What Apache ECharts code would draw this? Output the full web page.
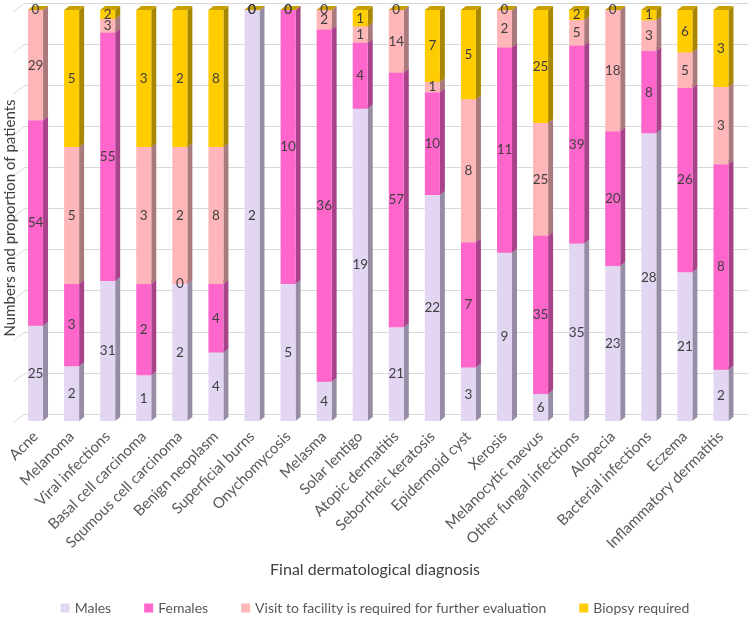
<!DOCTYPE html>
<html>
<head>
<meta charset="utf-8">
<script src="https://cdn.jsdelivr.net/npm/echarts@6/dist/echarts.min.js"></script>
<style>html,body{margin:0;padding:0;background:#fff;}#c{width:750px;height:624px;}</style>
</head>
<body>
<div id="c"></div>
<script>
const categories = ["Acne","Melanoma","Viral infections","Basal cell carcinoma","Squmous cell carcinoma","Benign neoplasm","Superficial burns","Onychomycosis","Melasma","Solar lentigo","Atopic dermatitis","Seborrheic keratosis","Epidermoid cyst","Xerosis","Melanocytic naevus","Other fungal infections","Alopecia","Bacterial infections","Eczema","Inflammatory dermatitis"];
const males   = [25, 2, 31, 1, 2, 4, 2, 5, 4, 19, 21, 22, 3, 9, 6, 35, 23, 28, 21, 2];
const females = [54, 3, 55, 2, 0, 4, 0, 10, 36, 4, 57, 10, 7, 11, 35, 39, 20, 8, 26, 8];
const visit   = [29, 5, 3, 3, 2, 8, 0, 0, 2, 1, 14, 1, 8, 2, 25, 5, 18, 3, 5, 3];
const biopsy  = [0, 5, 2, 3, 2, 8, 0, 0, 0, 1, 0, 7, 5, 0, 25, 2, 0, 1, 6, 3];
const seriesNames = ["Males","Females","Visit to facility is required for further evaluation","Biopsy required"];
const gridTicks = [0,10,20,30,40,50,60,70,80,90,100];

const seriesValues = [males, females, visit, biopsy];
const colors = {
  front: ['#E2D6F2','#FF66CC','#FFB6B9','#FFCC00'],
  side:  ['#968CA3','#A8428A','#A87A7C','#A88700'],
  top:   ['#BDB2CB','#D655AB','#D89A9D','#C9A000']
};

const totals = categories.map((c,i)=>seriesValues.reduce((s,a)=>s+a[i],0));
function buildData(s){
  return categories.map((c,i)=>{
    let start = 0;
    for(let k=0;k<s;k++) start += seriesValues[k][i];
    const v = seriesValues[s][i];
    return [i, start/totals[i]*100, (start+v)/totals[i]*100, v, s];
  });
}

const W = 15, DX = 5, DY = 4;
function renderBar(params, api){
  const i = api.value(0), a = api.value(1), b = api.value(2), s = api.value(4);
  const pT = api.coord([i, b]);
  const pB = api.coord([i, a]);
  const x = pT[0] - W/2, yT = pT[1], yB = pB[1];
  return {
    type: 'group',
    children: [
      {type:'polygon', shape:{points:[[x+W,yT],[x+W+DX,yT-DY],[x+W+DX,yB-DY],[x+W,yB]]}, style:{fill:colors.side[s]}},
      {type:'polygon', shape:{points:[[x,yT],[x+DX,yT-DY],[x+W+DX,yT-DY],[x+W,yT]]}, style:{fill:colors.top[s]}},
      {type:'rect', shape:{x:x, y:yT, width:W, height:yB-yT}, style:{fill:colors.front[s]}}
    ]
  };
}
function renderLabel(params, api){
  const i = api.value(0), a = api.value(1), b = api.value(2), v = api.value(3);
  const p = api.coord([i, (a+b)/2]);
  return {type:'text', style:{text:String(v), x:p[0], y:p[1], align:'center', verticalAlign:'middle',
    fill:'#404040', font:'13.5px Lato'}};
}

const series = [];
seriesNames.forEach((n,s)=>{
  series.push({type:'custom', name:n, xAxisIndex:0, yAxisIndex:0, renderItem:renderBar,
    itemStyle:{color:colors.front[s]}, data:buildData(s), z:2, silent:true});
});
const allLabels = [];
seriesNames.forEach((n,s)=>{ buildData(s).forEach(d=>allLabels.push(d)); });
series.push({type:'custom', name:'labels', xAxisIndex:0, yAxisIndex:0, renderItem:renderLabel, data:allLabels, z:10, silent:true});

const chart = echarts.init(document.getElementById('c'), null, {renderer:'canvas'});
chart.setOption({
  animation:false,
  textStyle:{fontFamily:'Lato'},
  grid:[
    {left:17.5, right:11, top:10, bottom:203},
    {left:25, right:2, top:3, bottom:210}
  ],
  xAxis:[
    {type:'category', data:categories, gridIndex:0, axisLine:{show:false}, axisTick:{show:false},
     axisLabel:{rotate:45, interval:0, margin:13, color:'#595959', fontSize:15, fontFamily:'Lato'}},
    {type:'category', data:categories, gridIndex:1, show:false}
  ],
  yAxis:[
    {type:'value', gridIndex:0, min:0, max:100, interval:10, show:false, splitLine:{show:false}},
    {type:'value', gridIndex:1, min:0, max:100, interval:10, axisLabel:{show:false}, axisLine:{show:false}, axisTick:{show:false},
     splitLine:{show:true, lineStyle:{color:'#D9D9D9', width:1}}}
  ],
  legend:{
    data:seriesNames, bottom:4, left:'center', icon:'rect', itemWidth:9, itemHeight:9, itemGap:33,
    textStyle:{color:'#595959', fontSize:14, fontFamily:'Lato'}
  },
  series:series
});

const diag = gridTicks.map(t=>{
  const p = chart.convertToPixel({yAxisIndex:1}, t);
  return {type:'line', shape:{x1:13, y1:p+9, x2:25, y2:p}, style:{stroke:'#D9D9D9', lineWidth:1}, silent:true};
});
chart.setOption({graphic:[
  ...diag,
  {type:'text', left:'center', top:562, style:{text:'Final dermatological diagnosis', fill:'#404040', font:'16px Lato'}},
  {type:'text', x:3, y:218, rotation:Math.PI/2, style:{text:'Numbers and proportion of patients', fill:'#404040', font:'15px Lato', align:'center', verticalAlign:'top'}}
]});
</script>
</body>
</html>
